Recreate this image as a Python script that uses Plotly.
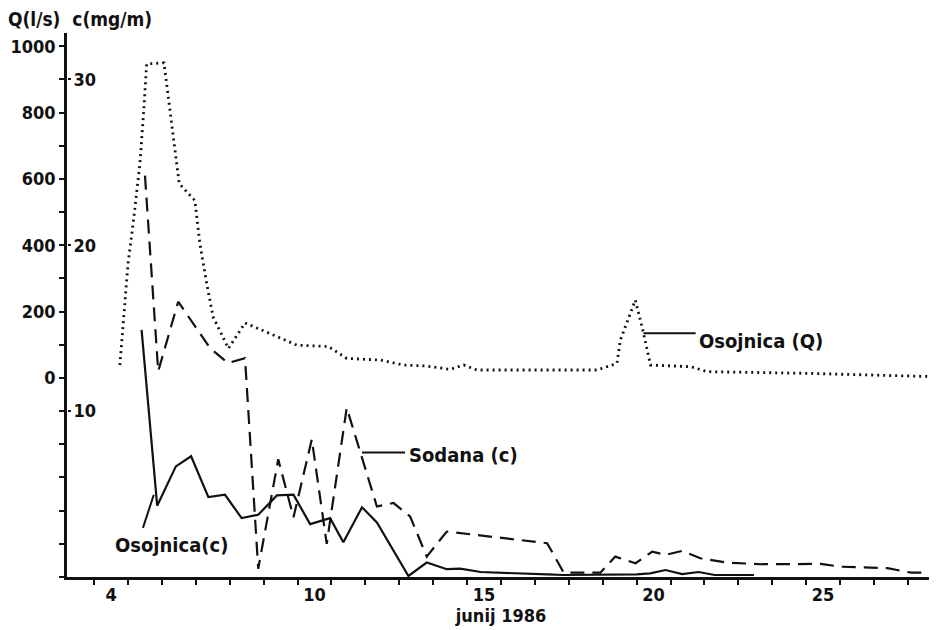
import plotly.graph_objects as go

# ---- data (days of June 1986) ----
q_days = [4.26, 4.50, 4.65, 4.85, 4.95, 5.05, 5.56, 5.64, 5.74, 5.88, 6.01, 6.47, 6.62,
          6.82, 7.01, 7.46, 7.95, 9.48, 10.41, 10.95, 11.94, 12.62, 13.3, 14.0, 14.4,
          14.79, 18.33, 18.92, 19.02, 19.46, 19.66, 19.91, 21.1, 21.58, 24.5, 28.27]
q_osojnica = [39, 345, 465, 646, 786, 947, 950, 886, 796, 696, 586, 535, 405,
              285, 184, 89, 166, 99, 95, 59, 54, 39, 36, 26, 39,
              24, 24, 44, 114, 235, 154, 39, 34, 19, 14, 4]

sod_days = [5.0, 5.39, 5.98, 6.42, 6.92, 7.45, 7.95, 8.34, 8.93, 9.38, 9.92, 10.36,
            10.95, 11.84, 12.33, 12.82, 13.31, 13.9, 16.86, 17.35, 18.43, 18.87,
            19.47, 19.96, 20.35, 20.84, 21.38, 22.17, 23.16, 24.93, 25.52, 26.9, 27.6, 28.2]
c_sodana = [24.2, 12.4, 16.6, 15.3, 13.8, 12.9, 13.2, 0.5, 7.1, 3.6, 8.3, 2.0,
            10.2, 4.25, 4.46, 3.65, 1.23, 2.74, 2.04, 0.26, 0.26, 1.23,
            0.83, 1.53, 1.33, 1.57, 1.13, 0.87, 0.77, 0.79, 0.62, 0.53, 0.26, 0.26]

oso_days = [4.9, 5.36, 5.91, 6.36, 6.87, 7.36, 7.85, 8.34, 8.89, 9.38, 9.87, 10.46,
            10.85, 11.4, 11.84, 12.77, 13.31, 13.9, 14.3, 14.9, 16.86, 17.35, 19.5,
            19.9, 20.35, 20.84, 21.33, 21.8, 22.96]
c_osojnica = [14.9, 4.3, 6.67, 7.28, 4.82, 4.96, 3.55, 3.75, 4.92, 4.96, 3.19, 3.55,
              2.1, 4.2, 3.29, 0.06, 0.87, 0.47, 0.5, 0.3, 0.16, 0.12, 0.16,
              0.22, 0.42, 0.18, 0.3, 0.12, 0.12]

x_ticks = [4, 10, 15, 20, 25]
q_ticks = [0, 200, 400, 600, 800, 1000]
c_ticks = [10, 20, 30]

FONT = "DejaVu Sans Condensed, DejaVu Sans, sans-serif"
BLACK = "#111111"

Q_MIN, Q_MAX = -600, 1040
C_MIN, C_MAX = (Q_MIN + 600) / 50, (Q_MAX + 600) / 50

fig = go.Figure()
fig.add_trace(go.Scatter(x=q_days, y=q_osojnica, mode="lines", yaxis="y",
                         line=dict(color=BLACK, width=2.8, dash="2px,4px"),
                         showlegend=False, hoverinfo="skip"))
fig.add_trace(go.Scatter(x=sod_days, y=c_sodana, mode="lines", yaxis="y2",
                         line=dict(color=BLACK, width=2.2, dash="14px,8px"),
                         showlegend=False, hoverinfo="skip"))
fig.add_trace(go.Scatter(x=oso_days, y=c_osojnica, mode="lines", yaxis="y2",
                         line=dict(color=BLACK, width=2.2),
                         showlegend=False, hoverinfo="skip"))

lbl_font = dict(family=FONT, size=20, color=BLACK, weight="bold")

# leader lines
fig.add_shape(type="line", xref="x", yref="y", x0=19.7, y0=135, x1=21.24, y1=135,
              line=dict(color=BLACK, width=2))
fig.add_shape(type="line", xref="x", yref="y2", x0=11.4, y0=7.5, x1=12.67, y1=7.5,
              line=dict(color=BLACK, width=2))
fig.add_shape(type="line", xref="x", yref="y2", x0=4.94, y0=2.96, x1=5.26, y1=4.96,
              line=dict(color=BLACK, width=2))

fig.add_annotation(x=23.16, y=111, xref="x", yref="y", text="Osojnica (Q)",
                   showarrow=False, font=lbl_font)
fig.add_annotation(x=14.4, y=7.38, xref="x", yref="y2", text="Sodana (c)",
                   showarrow=False, font=lbl_font)
fig.add_annotation(x=5.79, y=1.94, xref="x", yref="y2", text="Osojnica(c)",
                   showarrow=False, font=lbl_font)

tick_font = dict(family=FONT, size=18, color=BLACK, weight="bold")

# the page puts the figure 8px in from the top-left corner
W, H = 929, 622
fig.update_layout(
    width=W, height=H,
    margin=dict(l=59, r=2, t=25, b=53),
    paper_bgcolor="white", plot_bgcolor="white",
    title=dict(text="Q(l/s)  c(mg/m)", x=0, xanchor="left", xref="container",
               y=1 - 11 / H, yanchor="middle", yref="container",
               font=dict(family=FONT, size=19, color=BLACK, weight="bold")),
    xaxis=dict(range=[2.7, 28.3], showgrid=False, zeroline=False,
               showline=True, linecolor=BLACK, linewidth=2.5,
               tickvals=x_ticks, ticktext=[str(v) for v in x_ticks],
               ticks="", tickfont=tick_font,
               minor=dict(ticks="outside", tick0=0.5, dtick=1, ticklen=5,
                          tickwidth=2, tickcolor=BLACK),
               title=dict(text="junij 1986", font=tick_font, standoff=0)),
    yaxis=dict(range=[Q_MIN, Q_MAX], showgrid=False, zeroline=False,
               showline=True, linecolor=BLACK, linewidth=2.5,
               tickvals=q_ticks, ticks="outside", ticklen=5, tickwidth=2,
               tickcolor=BLACK, tickfont=tick_font,
               minor=dict(ticks="outside", tick0=0, dtick=100, ticklen=5,
                          tickwidth=2, tickcolor=BLACK)),
    yaxis2=dict(range=[C_MIN, C_MAX], overlaying="y", anchor="free", position=0,
                side="right", showgrid=False, zeroline=False, showline=False,
                tickvals=c_ticks, ticks="outside", ticklen=3, tickwidth=2,
                tickcolor=BLACK, tickfont=tick_font, ticklabelstandoff=-1),
)

fig.write_html("out.html")
